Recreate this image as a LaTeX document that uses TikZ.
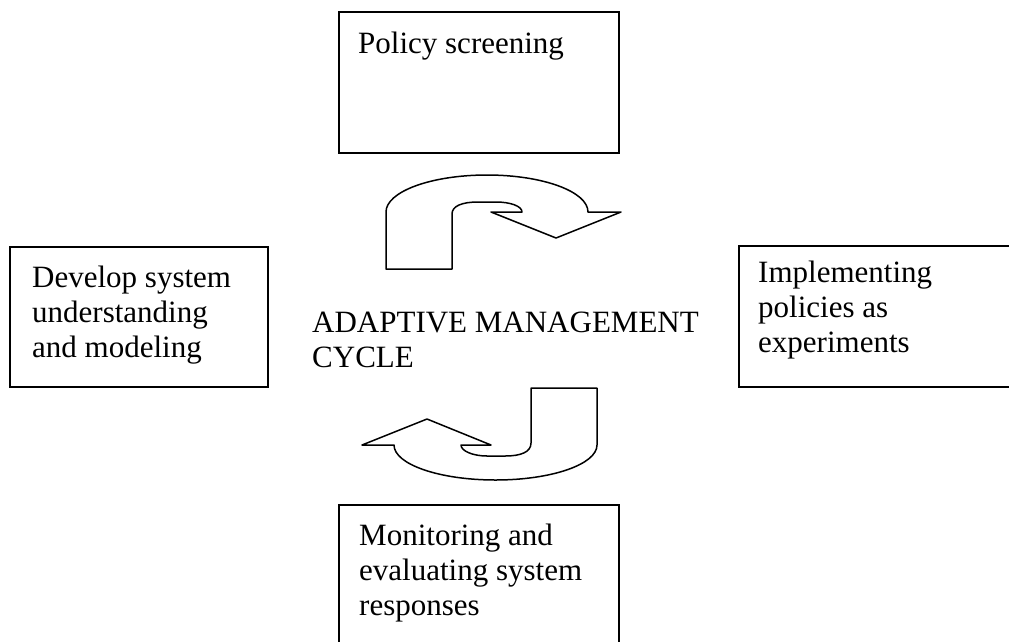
\documentclass[tikz,border=0pt]{standalone}
\usepackage{fontspec}
\setmainfont{Liberation Serif}
\begin{document}
\begin{tikzpicture}[x=1pt,y=-1pt,
  box/.style={draw=black, line width=1.5pt, rectangle, inner sep=0pt, fill=none},
  lbl/.style={inner sep=0pt, font=\fontsize{31}{35}\selectfont, anchor=base west},
  blockarrow/.style={draw=black, line width=1.5pt, line join=round, fill=white}
]
\useasboundingbox[fill=white] (0,0) rectangle (1009,641);

% boxes
\node[box, minimum width=280pt, minimum height=141pt] (topbox) at (479,82.5) {};
\node[box, minimum width=258pt, minimum height=140pt] (leftbox) at (139,317) {};
\node[box, minimum width=290pt, minimum height=141pt] (rightbox) at (884,316.5) {};
\node[box, minimum width=280pt, minimum height=150pt] (bottombox) at (479,580) {};

% texts
\node[lbl] (toptext) at (358,53) {\parbox[t]{260pt}{\raggedright Policy screening}};
\node[lbl] (lefttext) at (32,287) {\parbox[t]{240pt}{\raggedright Develop system\\understanding\\and modeling}};
\node[lbl] (righttext) at (758,282) {\parbox[t]{250pt}{\raggedright Implementing\\policies as\\experiments}};
\node[lbl] (centertext) at (312,332) {\parbox[t]{420pt}{\raggedright ADAPTIVE MANAGEMENT\\CYCLE}};
\node[lbl] (bottomtext) at (359,545) {\parbox[t]{260pt}{\raggedright Monitoring and\\evaluating system\\responses}};

% top curved arrow
\draw[blockarrow]
  (491,212) -- (522,212)
  .. controls (522,206) and (510,202) .. (496,202)
  -- (478,202)
  .. controls (462,202) and (452,206) .. (452,214)
  -- (452,269) -- (386,269) -- (386,212)
  .. controls (386,191.6) and (431.2,175) .. (487,175)
  .. controls (542.8,175) and (588,191.6) .. (588,212)
  -- (621,212) -- (556,238) -- cycle;

% bottom curved arrow
\draw[blockarrow]
  (531,388) -- (597,388) -- (597,445)
  .. controls (597,464.3) and (551.6,480) .. (495.5,480)
  .. controls (439.4,480) and (394,464.3) .. (394,445)
  -- (362,445) -- (427,419) -- (491,445) -- (461,445)
  .. controls (461,451) and (473,456) .. (487,456)
  -- (505,456)
  .. controls (521,456) and (531,452) .. (531,443)
  -- cycle;
\end{tikzpicture}
\end{document}
